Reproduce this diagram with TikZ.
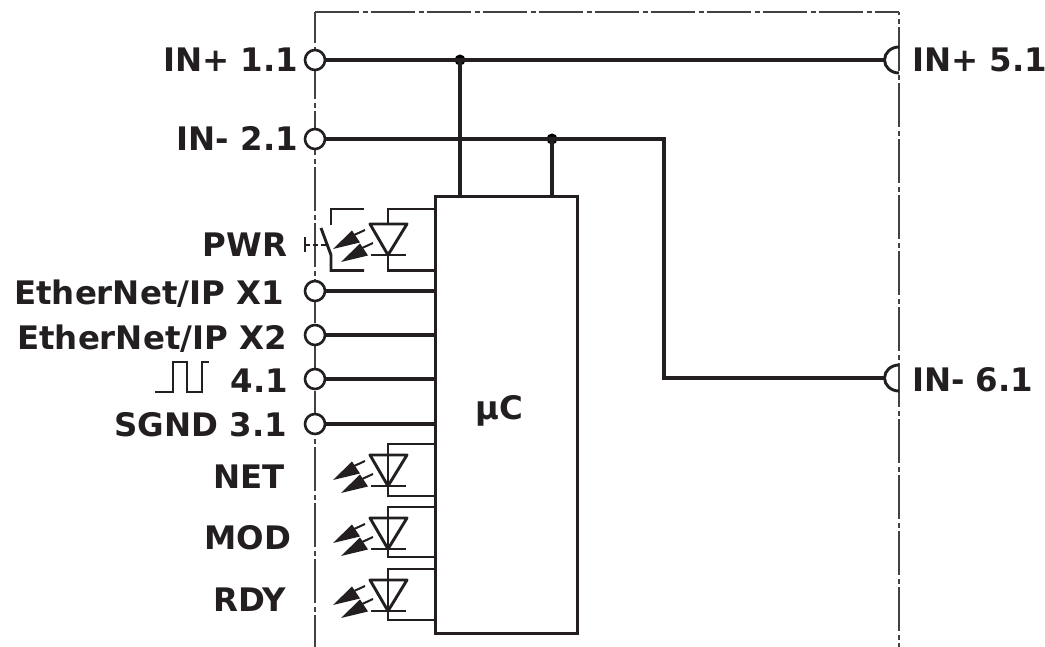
\documentclass[tikz,border=0pt]{standalone}
\usepackage{fontspec}
\setmainfont{DejaVu Sans}
\begin{document}
\begin{tikzpicture}[x=1pt,y=-1pt,
  wire/.style={line width=3.4pt,line cap=butt,line join=miter,color=ink},
  thin wire/.style={line width=2.9pt,line join=miter,color=ink},
  frameline/.style={line width=1.5pt,color=ink!85,dash pattern=on 44pt off 4pt on 5pt off 3pt},
  term/.style={circle,draw=ink,line width=2.6pt,fill=white,minimum size=20pt,inner sep=0pt,outer sep=0pt},
  dot/.style={circle,fill=black,minimum size=11pt,inner sep=0pt,outer sep=0pt},
  lab/.style={font=\fontsize{32.4}{36}\selectfont\bfseries,text=ink,inner sep=0pt,outer sep=0pt},
  mcbox/.style={draw=ink,line width=3pt,fill=white,inner sep=0pt,outer sep=0pt,minimum width=142pt,minimum height=436pt},
  pics/led/.style={code={
    % origin: centre of the diode bar
    \draw[thin wire,line join=round] (-18,-31) -- (19,-31) -- (0,0) -- cycle;
    \draw[thin wire] (-17,0) -- (18,0);
    \foreach \dx/\dy in {0/0,8/13}{
      \begin{scope}[shift={(\dx,\dy)}]
        \fill[ink] (-55,-6) -- (-36,-24.5) -- (-28,-12.5) -- cycle;
        \draw[ink,line width=2pt] (-36,-19) -- (-23,-25);
      \end{scope}}
  }}]
\definecolor{ink}{HTML}{231F20}
\useasboundingbox (0,0) rectangle (1045,647);
% enclosure
\coordinate (fa) at (315,647); \coordinate (fb) at (315,12);
\coordinate (fc) at (899,12);  \coordinate (fd) at (899,647);
\draw[frameline,dash phase=13pt] (fb) -- (fa);
\draw[frameline] (fb) -- (fc);
\draw[frameline,dash phase=41pt] (fc) -- (fd);
% controller
\node[mcbox,anchor=north west] (mc) at (435,197) {};
\node[lab,anchor=base] (mctext) at (499.5,419) {µC};
% terminals
\node[term] (t1) at (315,60) {};
\node[term] (t2) at (315,139) {};
\node[term] (t3) at (315,291) {};
\node[term] (t4) at (315,335) {};
\node[term] (t5) at (315,379) {};
\node[term] (t6) at (315,424) {};
\coordinate (r1) at (884.5,60);
\coordinate (r2) at (884.5,378);
\draw[thin wire] (899,47) arc[start angle=-90,end angle=-270,x radius=14.5,y radius=13];
\draw[thin wire] (899,365) arc[start angle=-90,end angle=-270,x radius=14.5,y radius=13];
% wires
\node[dot] (j1) at (460,60) {};
\node[dot] (j2) at (552,139) {};
\coordinate (b2) at (664,139);
\coordinate (b3) at (664,378);
\draw[wire] (t1) -- (j1.center) -- (r1);
\draw[wire] (j1.center) -- (j1 |- mc.north);
\draw[wire] (t2) -- (j2.center) -- (b2) -- (b3) -- (r2);
\draw[wire] (j2.center) -- (j2 |- mc.north);
\draw[wire] (t3) -- (t3 -| mc.west);
\draw[wire] (t4) -- (t4 -| mc.west);
\draw[wire] (t5) -- (t5 -| mc.west);
\draw[wire] (t6) -- (t6 -| mc.west);
% PWR switch and LED
\pic at (388,255) {led};
\draw[thin wire] (388,224) -- (388,209) -- (435,209);
\draw[thin wire] (388,255) -- (388,270.5) -- (435,270.5);
\draw[thin wire] (331,225) -- (331,209) -- (364,209);
\draw[thin wire] (321,228) -- (331,255) -- (331,270.5) -- (364,270.5);
\draw[ink,line width=1.5pt,dash pattern=on 5pt off 3pt] (305,245) -- (326,245);
\draw[ink,line width=2pt] (305,237.5) -- (305,252);
% LEDs
\foreach \bar/\top/\bot in {486/444/496,549/507/557,611/569/620}{
  \pic at (388,\bar) {led};
  \draw[thin wire] (435,\top) -- (388,\top) -- (388,\bot) -- (435,\bot);
}
% pulse symbol
\draw[ink,line width=1.4pt] (155,392) -- (173,392) -- (173,362) -- (187,362) -- (187,392) -- (202,392) -- (202,362) -- (209,362);
% labels
\node[lab,anchor=base east] (l1) at (298,72) {IN+ 1.1};
\node[lab,anchor=base east] (l2) at (298,151) {IN- 2.1};
\node[lab,anchor=base east] (l3) at (287,257) {PWR};
\node[lab,anchor=base east] (l4) at (284,305) {EtherNet/IP X1};
\node[lab,anchor=base east] (l5) at (287,349) {EtherNet/IP X2};
\node[lab,anchor=base east] (l6) at (288,392) {4.1};
\node[lab,anchor=base east] (l7) at (287,436) {SGND 3.1};
\node[lab,anchor=base east] (l8) at (285,488) {NET};
\node[lab,anchor=base east] (l9) at (291,549) {MOD};
\node[lab,anchor=base east] (l10) at (286,611) {RDY};
\node[lab,anchor=base west] (l11) at (912,72) {IN+ 5.1};
\node[lab,anchor=base west] (l12) at (912,391) {IN- 6.1};
\end{tikzpicture}
\end{document}
